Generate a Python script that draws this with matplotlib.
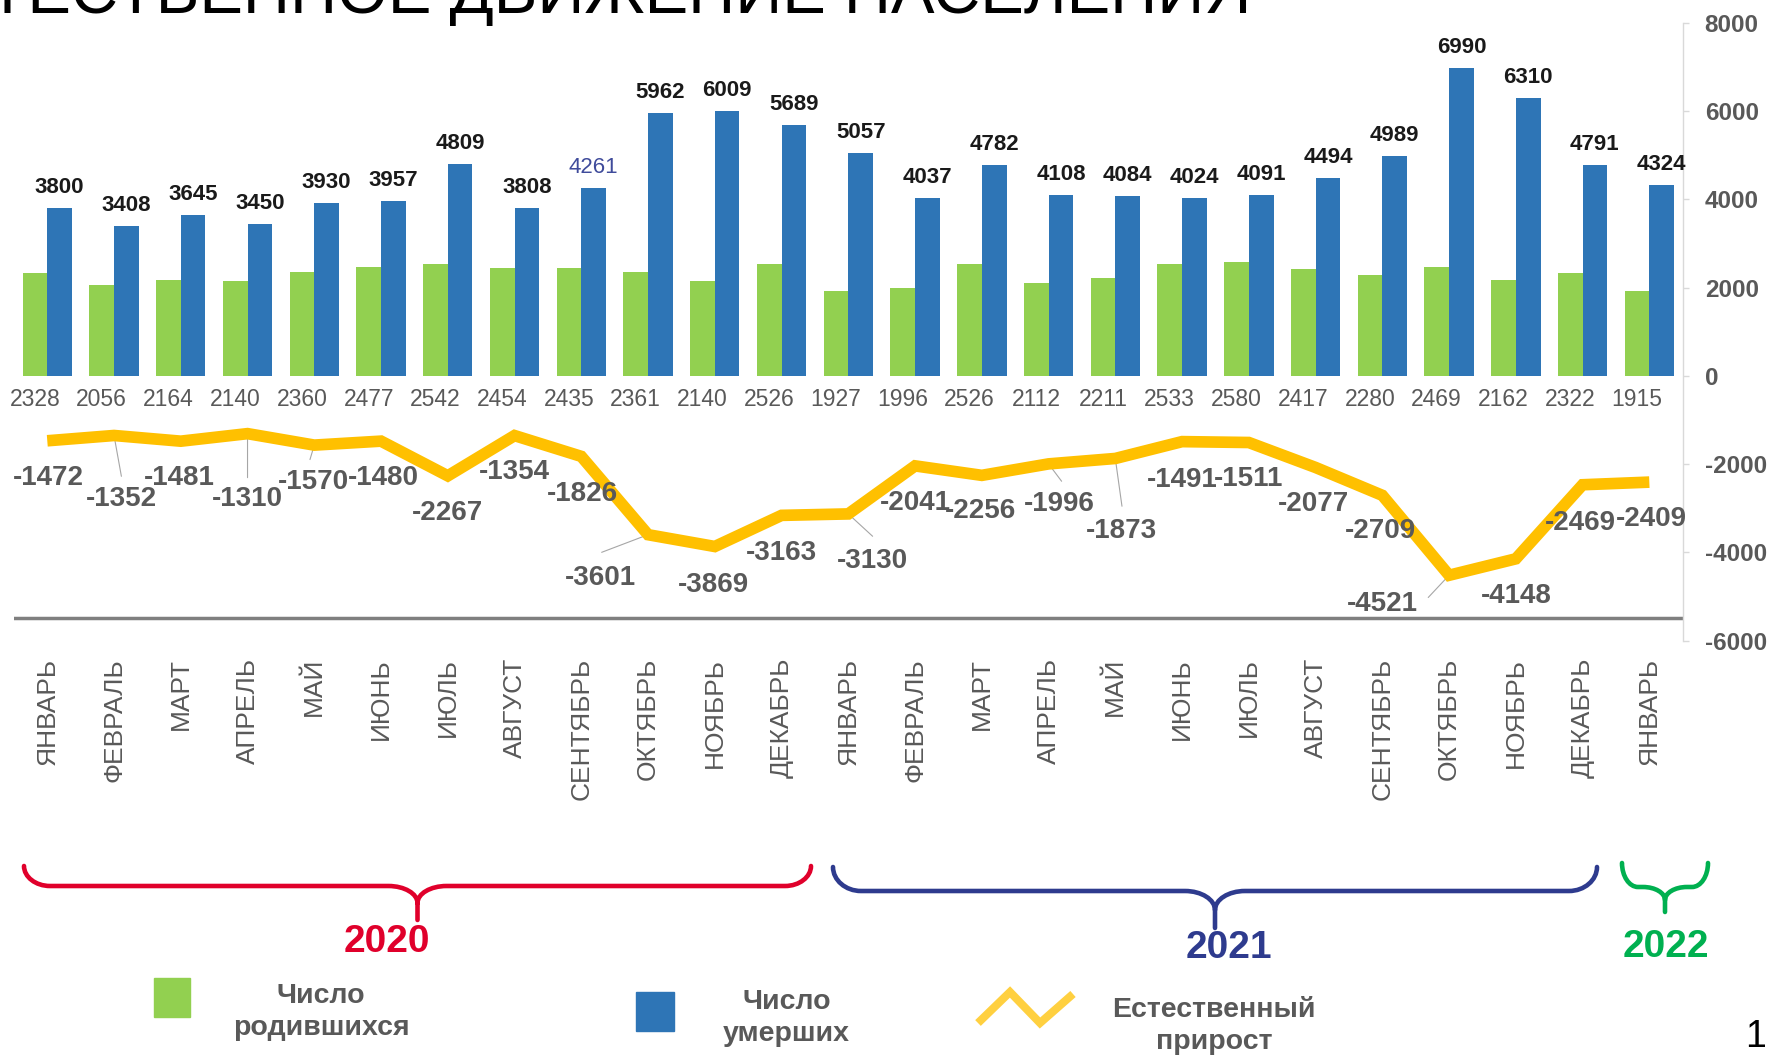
import matplotlib
matplotlib.use('Agg')
import matplotlib.pyplot as plt
from matplotlib.path import Path
from matplotlib.patches import PathPatch, Rectangle
import numpy as np

plt.rcParams['font.family'] = ['Liberation Sans', 'DejaVu Sans']

# ---------------- data ----------------
months = ['ЯНВАРЬ', 'ФЕВРАЛЬ', 'МАРТ', 'АПРЕЛЬ', 'МАЙ', 'ИЮНЬ', 'ИЮЛЬ', 'АВГУСТ',
          'СЕНТЯБРЬ', 'ОКТЯБРЬ', 'НОЯБРЬ', 'ДЕКАБРЬ',
          'ЯНВАРЬ', 'ФЕВРАЛЬ', 'МАРТ', 'АПРЕЛЬ', 'МАЙ', 'ИЮНЬ', 'ИЮЛЬ', 'АВГУСТ',
          'СЕНТЯБРЬ', 'ОКТЯБРЬ', 'НОЯБРЬ', 'ДЕКАБРЬ',
          'ЯНВАРЬ']
births = [2328, 2056, 2164, 2140, 2360, 2477, 2542, 2454, 2435, 2361, 2140, 2526,
          1927, 1996, 2526, 2112, 2211, 2533, 2580, 2417, 2280, 2469, 2162, 2322,
          1915]
deaths = [3800, 3408, 3645, 3450, 3930, 3957, 4809, 3808, 4261, 5962, 6009, 5689,
          5057, 4037, 4782, 4108, 4084, 4024, 4091, 4494, 4989, 6990, 6310, 4791,
          4324]
natural_growth = [-1472, -1352, -1481, -1310, -1570, -1480, -2267, -1354, -1826,
                  -3601, -3869, -3163, -3130, -2041, -2256, -1996, -1873, -1491,
                  -1511, -2077, -2709, -4521, -4148, -2469, -2409]
years = ['2020', '2021', '2022']
y_ticks = [-6000, -4000, -2000, 0, 2000, 4000, 6000, 8000]
title = 'ЕСТЕСТВЕННОЕ ДВИЖЕНИЕ НАСЕЛЕНИЯ'
legend_labels = ['Число\nродившихся', 'Число\nумерших', 'Естественный\nприрост']

# ---------------- layout / style ----------------
W, H = 1771, 1057
GREEN = '#92d050'
BLUE = '#2e75b6'
GOLD = '#ffc000'
GRAY = '#595959'
YEAR_COLORS = ['#e0002b', '#2e3b8e', '#00b050']

# label offsets for the natural-growth labels (points, baseline anchored)
ng_dx = [0.8, 5.3, -1, 0, -0.8, 2.0, 0, 0, 0.8, -34.2, -0.8, 0, 17.1, 0, -0.8,
         7.7, 4.1, 0, 0, -1.6, -1.6, -48.0, 0, -1.6, 1.3]
ng_dy = [-31.5, -51, -31.3, -52.3, -31.6, -31.6, -32.0, -31.6, -32.4, -36.4,
         -32.4, -32.4, -38.9, -31.6, -30.7, -34.0, -57.6, -32.4, -31.6, -31.6,
         -30.7, -25.9, -31.6, -32.4, -31.6]
leaders = {1: (5.3, -29.4), 3: (0, -31.7), 4: (-3.1, -10.4), 9: (-33.4, -12.7),
           12: (17.5, -16.1), 15: (9.4, -12.5), 16: (4.8, -34.4), 21: (-15, -16)}

fig = plt.figure(figsize=(W / 100, H / 100), dpi=100)
fig.patch.set_facecolor('white')

# overlay axes in pixel coordinates for decorations
ov = fig.add_axes([0, 0, 1, 1], zorder=-1)
ov.set_xlim(0, W)
ov.set_ylim(H, 0)
ov.axis('off')

ax_l, ax_r, ax_t, ax_b = 13.9, 1682.7, 23.0, 640.5
ax = fig.add_axes([ax_l / W, 1 - ax_b / H, (ax_r - ax_l) / W, (ax_b - ax_t) / H])
ax.patch.set_visible(False)

x = np.arange(len(months))
bw = 0.37
ax.bar(x - bw / 2, births, bw, color=GREEN, zorder=2)
ax.bar(x + bw / 2, deaths, bw, color=BLUE, zorder=2)
ax.plot(x, natural_growth, color=GOLD, lw=8.4, solid_joinstyle='miter',
        solid_capstyle='butt', zorder=4)
ax.axhline(-5480, color='#7f7f7f', lw=2.5, zorder=1)

ax.set_xlim(-0.5, len(months) - 0.5)
ax.set_ylim(-6000, 8000)

for s in ['top', 'left', 'bottom']:
    ax.spines[s].set_visible(False)
ax.spines['right'].set_color('#d9d9d9')
ax.spines['right'].set_linewidth(1.0)
ax.yaxis.tick_right()
ax.set_yticks(y_ticks)
ax.set_yticklabels([str(v) for v in y_ticks])
ax.tick_params(axis='y', colors='#d9d9d9', labelcolor=GRAY, length=4, width=1,
               pad=11.8, labelsize=17.5)
for lbl in ax.get_yticklabels():
    lbl.set_fontweight('bold')
ax.set_xticks(x)
ax.set_xticklabels(months, rotation=90, fontsize=19, color=GRAY)
ax.tick_params(axis='x', length=0, pad=12.6)

# bar labels
for i, b in enumerate(births):
    ax.annotate(str(b), xy=(i - bw / 2, 0), xytext=(0, -22), textcoords='offset points',
                ha='center', va='baseline', fontsize=16.5, color=GRAY, zorder=5)
for i, d in enumerate(deaths):
    special = (i == 8)
    ax.annotate(str(d), xy=(i + bw / 2, d), xytext=(0, 10.8), textcoords='offset points',
                ha='center', va='baseline', fontsize=16,
                fontweight='normal' if special else 'bold',
                color='#3f4b9b' if special else '#1a1a1a', zorder=5)

# natural growth labels
for i, v in enumerate(natural_growth):
    if i in leaders:
        ax.annotate('', xy=(i, v), xytext=leaders[i], textcoords='offset points',
                    arrowprops=dict(arrowstyle='-', color='#a6a6a6', lw=0.8,
                                    shrinkA=0, shrinkB=0), zorder=3)
    ax.annotate(str(v), xy=(i, v), xytext=(ng_dx[i], ng_dy[i]), textcoords='offset points',
                ha='center', va='baseline', fontsize=20, fontweight='bold',
                color=GRAY, zorder=6)

# ---------------- braces & year labels ----------------
def brace(x0, x1, yt, yb, ytip, ystem, r, r2, color):
    xc = (x0 + x1) / 2
    k = 0.55
    verts = [(x0, yt),
             (x0, yt + k * (yb - yt)), (x0 + r - k * r, yb), (x0 + r, yb),
             (xc - r2, yb),
             (xc - r2 + k * r2, yb), (xc, ytip - k * (ytip - yb)), (xc, ytip),
             (xc, ystem),
             (xc, ytip),
             (xc, ytip - k * (ytip - yb)), (xc + r2 - k * r2, yb), (xc + r2, yb),
             (x1 - r, yb),
             (x1 - r + k * r, yb), (x1, yt + k * (yb - yt)), (x1, yt)]
    C, L, M = Path.CURVE4, Path.LINETO, Path.MOVETO
    codes = [M, C, C, C, L, C, C, C, L, M, C, C, C, L, C, C, C]
    ov.add_patch(PathPatch(Path(verts, codes), fill=False, edgecolor=color, lw=3.3,
                           capstyle='round', joinstyle='round'))

brace(24, 811, 866, 886, 903, 920, 26, 29, YEAR_COLORS[0])
brace(833, 1597, 867, 891, 910, 928, 28, 30, YEAR_COLORS[1])
brace(1622, 1708, 863, 887, 900, 912, 16, 22, YEAR_COLORS[2])

year_pos = [(387, 951.5), (1229, 958), (1666, 957)]
for (yx, yy), yr, c in zip(year_pos, years, YEAR_COLORS):
    ov.text(yx, yy, yr, ha='center', va='baseline', fontsize=28, fontweight='bold', color=c)

# ---------------- legend ----------------
ov.add_patch(Rectangle((153.6, 978), 36.2, 38.6, color=GREEN))
ov.add_patch(Rectangle((636, 992), 38.5, 38.7, color=BLUE))
ov.plot([978, 1010, 1040, 1073], [1023, 992, 1023, 994], color='#ffd040', lw=5.8,
        solid_joinstyle='miter', solid_capstyle='butt')
# baseline of the last line of each two-line legend text
leg_pos = [(321, 1035), (786.5, 1041), (1214, 1049)]
for (lx, ly), txt in zip(leg_pos, legend_labels):
    ov.text(lx, ly, txt, ha='center', va='baseline', multialignment='center',
            fontsize=20.5, fontweight='bold', color=GRAY, linespacing=1.28)

# ---------------- title & page number ----------------
ov.text(1251.5, 13.3, title, ha='right', va='baseline', fontsize=47, color='black')
ov.text(1756, 1047, '1', ha='center', va='baseline', fontsize=27, color='black')

fig.savefig('out.png', dpi=100)
